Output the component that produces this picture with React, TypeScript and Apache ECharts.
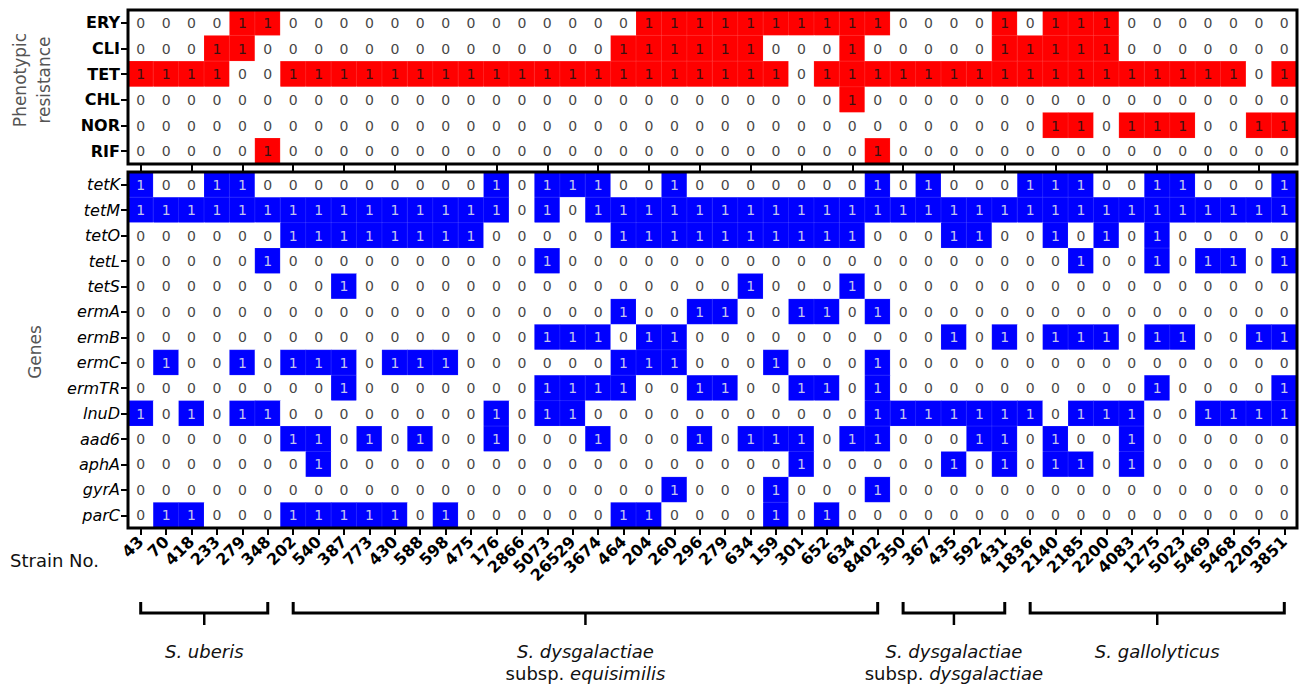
import React, { useEffect, useRef } from 'react';
import * as echarts from 'echarts';

const STRAINS = ['43', '70', '418', '233', '279', '348', '202', '540', '387', '773', '430', '588', '598', '475', '176', '2866', '5073', '26529', '3674', '464', '204', '260', '296', '279', '634', '159', '301', '652', '634', '8402', '350', '367', '435', '592', '431', '1836', '2140', '2185', '2200', '4083', '1275', '5023', '5469', '5468', '2205', '3851'];

// Phenotypic resistance (columns follow STRAINS)
const PHENO_ROWS = ['ERY', 'CLI', 'TET', 'CHL', 'NOR', 'RIF'];
const ERY = [0,0,0,0,1,1,0,0,0,0, 0,0,0,0,0,0,0,0,0,0, 1,1,1,1,1,1,1,1,1,1, 0,0,0,0,1,0,1,1,1,0, 0,0,0,0,0,0];
const CLI = [0,0,0,1,1,0,0,0,0,0, 0,0,0,0,0,0,0,0,0,1, 1,1,1,1,1,0,0,0,1,0, 0,0,0,0,1,1,1,1,1,0, 0,0,0,0,0,0];
const TET = [1,1,1,1,0,0,1,1,1,1, 1,1,1,1,1,1,1,1,1,1, 1,1,1,1,1,1,0,1,1,1, 1,1,1,1,1,1,1,1,1,1, 1,1,1,1,0,1];
const CHL = [0,0,0,0,0,0,0,0,0,0, 0,0,0,0,0,0,0,0,0,0, 0,0,0,0,0,0,0,0,1,0, 0,0,0,0,0,0,0,0,0,0, 0,0,0,0,0,0];
const NOR = [0,0,0,0,0,0,0,0,0,0, 0,0,0,0,0,0,0,0,0,0, 0,0,0,0,0,0,0,0,0,0, 0,0,0,0,0,0,1,1,0,1, 1,1,0,0,1,1];
const RIF = [0,0,0,0,0,1,0,0,0,0, 0,0,0,0,0,0,0,0,0,0, 0,0,0,0,0,0,0,0,0,1, 0,0,0,0,0,0,0,0,0,0, 0,0,0,0,0,0];
const PHENO_VALUES = [ERY, CLI, TET, CHL, NOR, RIF];

// Genes
const GENE_ROWS = ['tetK', 'tetM', 'tetO', 'tetL', 'tetS', 'ermA', 'ermB', 'ermC', 'ermTR', 'lnuD', 'aad6', 'aphA', 'gyrA', 'parC'];
const TETK = [1,0,0,1,1,0,0,0,0,0, 0,0,0,0,1,0,1,1,1,0, 0,1,0,0,0,0,0,0,0,1, 0,1,0,0,0,1,1,1,0,0, 1,1,0,0,0,1];
const TETM = [1,1,1,1,1,1,1,1,1,1, 1,1,1,1,1,0,1,0,1,1, 1,1,1,1,1,1,1,1,1,1, 1,1,1,1,1,1,1,1,1,1, 1,1,1,1,1,1];
const TETO = [0,0,0,0,0,0,1,1,1,1, 1,1,1,1,0,0,0,0,0,1, 1,1,1,1,1,1,1,1,1,0, 0,0,1,1,0,0,1,0,1,0, 1,0,0,0,0,0];
const TETL = [0,0,0,0,0,1,0,0,0,0, 0,0,0,0,0,0,1,0,0,0, 0,0,0,0,0,0,0,0,0,0, 0,0,0,0,0,0,0,1,0,0, 1,0,1,1,0,1];
const TETS = [0,0,0,0,0,0,0,0,1,0, 0,0,0,0,0,0,0,0,0,0, 0,0,0,0,1,0,0,0,1,0, 0,0,0,0,0,0,0,0,0,0, 0,0,0,0,0,0];
const ERMA = [0,0,0,0,0,0,0,0,0,0, 0,0,0,0,0,0,0,0,0,1, 0,0,1,1,0,0,1,1,0,1, 0,0,0,0,0,0,0,0,0,0, 0,0,0,0,0,0];
const ERMB = [0,0,0,0,0,0,0,0,0,0, 0,0,0,0,0,0,1,1,1,0, 1,1,0,0,0,0,0,0,0,0, 0,0,1,0,1,0,1,1,1,0, 1,1,0,0,1,1];
const ERMC = [0,1,0,0,1,0,1,1,1,0, 1,1,1,0,0,0,0,0,0,1, 1,1,0,0,0,1,0,0,0,1, 0,0,0,0,0,0,0,0,0,0, 0,0,0,0,0,0];
const ERMTR = [0,0,0,0,0,0,0,0,1,0, 0,0,0,0,0,0,1,1,1,1, 0,0,1,1,0,0,1,1,0,1, 0,0,0,0,0,0,0,0,0,0, 1,0,0,0,0,1];
const LNUD = [1,0,1,0,1,1,0,0,0,0, 0,0,0,0,1,0,1,1,0,0, 0,0,0,0,0,0,0,0,0,1, 1,1,1,1,1,1,0,1,1,1, 0,0,1,1,1,1];
const AAD6 = [0,0,0,0,0,0,1,1,0,1, 0,1,0,0,1,0,0,0,1,0, 0,0,1,0,1,1,1,0,1,1, 0,0,0,1,1,0,1,0,0,1, 0,0,0,0,0,0];
const APHA = [0,0,0,0,0,0,0,1,0,0, 0,0,0,0,0,0,0,0,0,0, 0,0,0,0,0,0,1,0,0,0, 0,0,1,0,1,0,1,1,0,1, 0,0,0,0,0,0];
const GYRA = [0,0,0,0,0,0,0,0,0,0, 0,0,0,0,0,0,0,0,0,0, 0,1,0,0,0,1,0,0,0,1, 0,0,0,0,0,0,0,0,0,0, 0,0,0,0,0,0];
const PARC = [0,1,1,0,0,0,1,1,1,1, 1,0,1,0,0,0,0,0,0,1, 1,0,0,0,0,1,0,1,0,0, 0,0,0,0,0,0,0,0,0,0, 0,0,0,0,0,0];
const GENE_VALUES = [TETK, TETM, TETO, TETL, TETS, ERMA, ERMB, ERMC, ERMTR, LNUD, AAD6, APHA, GYRA, PARC];

// Species groups (first and last strain column index)
const GROUP_LINE1 = ['S. uberis', 'S. dysgalactiae', 'S. dysgalactiae', 'S. gallolyticus'];
const GROUP_LINE2 = ['', 'equisimilis', 'dysgalactiae', ''];
const GROUP_START = [0, 6, 30, 35];
const GROUP_END = [5, 29, 34, 45];

const FONT = '"DejaVu Sans", Verdana, sans-serif';
const G_LEFT = 128;
const G_WIDTH = 1169;
const G1_TOP = 10;
const G1_H = 154;
const G2_TOP = 172;
const G2_H = 356;

const toData = (rows: number[][], oneTextColor: string) =>
  rows.flatMap((row, r) =>
    row.map((v, c) => ({
      value: [c, r, v],
      label: { color: v === 1 ? oneTextColor : '#474747' },
    }))
  );

export default function App() {
  const ref = useRef<HTMLDivElement>(null);
  useEffect(() => {
    const chart = echarts.init(ref.current as HTMLDivElement, null, { renderer: 'svg' });
    const tick = { show: true, alignWithLabel: true, length: 7, lineStyle: { color: '#000', width: 2 } };
    const cellLabel = {
      show: true,
      formatter: (p: any) => String(p.value[2]),
      fontSize: 14,
      fontFamily: FONT,
    };
    const cellStyle = { borderWidth: 0.6, borderColor: 'rgba(255,255,255,0.18)' };
    chart.setOption({
      animation: false,
      backgroundColor: '#ffffff',
      grid: [
        { left: G_LEFT, top: G1_TOP, width: G_WIDTH, height: G1_H, outerBoundsMode: 'none' },
        { left: G_LEFT, top: G2_TOP, width: G_WIDTH, height: G2_H, outerBoundsMode: 'none' },
      ],
      xAxis: [
        {
          type: 'category', gridIndex: 0, data: STRAINS, position: 'bottom',
          axisLine: { show: false }, axisTick: tick, axisLabel: { show: false },
          splitLine: { show: false },
        },
        {
          type: 'category', gridIndex: 1, data: STRAINS, position: 'bottom',
          axisLine: { show: false }, axisTick: tick,
          axisLabel: {
            interval: 0, rotate: 45, margin: 11, color: '#000', fontWeight: 'bold',
            fontSize: 16, fontFamily: FONT,
          },
          splitLine: { show: false },
        },
      ],
      yAxis: [
        {
          type: 'category', gridIndex: 0, data: PHENO_ROWS, inverse: true,
          axisLine: { show: false }, axisTick: tick,
          axisLabel: { color: '#000', fontWeight: 'bold', fontSize: 16, fontFamily: FONT, margin: 8 },
          splitLine: { show: false },
        },
        {
          type: 'category', gridIndex: 1, data: GENE_ROWS, inverse: true,
          axisLine: { show: false }, axisTick: tick,
          axisLabel: { color: '#000', fontStyle: 'italic', fontSize: 16, fontFamily: FONT, margin: 8 },
          splitLine: { show: false },
        },
      ],
      visualMap: [
        {
          type: 'piecewise', show: false, seriesIndex: 0, dimension: 2,
          pieces: [{ value: 0, color: '#ffffff' }, { value: 1, color: '#ff0000' }],
        },
        {
          type: 'piecewise', show: false, seriesIndex: 1, dimension: 2,
          pieces: [{ value: 0, color: '#ffffff' }, { value: 1, color: '#0000ff' }],
        },
      ],
      series: [
        {
          type: 'heatmap', xAxisIndex: 0, yAxisIndex: 0, data: toData(PHENO_VALUES, '#3a1010'),
          progressive: 0, label: cellLabel, itemStyle: cellStyle, emphasis: { disabled: true },
        },
        {
          type: 'heatmap', xAxisIndex: 1, yAxisIndex: 1, data: toData(GENE_VALUES, '#c4c4ee'),
          progressive: 0, label: cellLabel, itemStyle: cellStyle, emphasis: { disabled: true },
        },
      ],
    });

    const px = (i: number) => chart.convertToPixel({ xAxisIndex: 1 } as any, i) as number;
    const graphics: any[] = [
      {
        type: 'rect', z: 100, shape: { x: G_LEFT, y: G1_TOP, width: G_WIDTH, height: G1_H },
        style: { fill: 'none', stroke: '#000', lineWidth: 3 },
      },
      {
        type: 'rect', z: 100, shape: { x: G_LEFT, y: G2_TOP, width: G_WIDTH, height: G2_H },
        style: { fill: 'none', stroke: '#000', lineWidth: 3 },
      },
      {
        type: 'text', x: 32, y: 80, rotation: Math.PI / 2, z: 100,
        style: {
          text: 'Phenotypic\nresistance', fill: '#555', fontSize: 17, fontFamily: FONT,
          align: 'center', verticalAlign: 'middle', lineHeight: 24,
        },
      },
      {
        type: 'text', x: 35, y: 352, rotation: Math.PI / 2, z: 100,
        style: {
          text: 'Genes', fill: '#555', fontSize: 17, fontFamily: FONT,
          align: 'center', verticalAlign: 'middle',
        },
      },
      {
        type: 'text', x: 10, y: 560, z: 100,
        style: {
          text: 'Strain No.', fill: '#111', fontSize: 18, fontFamily: FONT,
          align: 'left', verticalAlign: 'middle',
        },
      },
    ];
    GROUP_LINE1.forEach((name, g) => {
      const x0 = px(GROUP_START[g]);
      const x1 = px(GROUP_END[g]);
      const xc = (x0 + x1) / 2;
      graphics.push({
        type: 'polyline', z: 100,
        shape: { points: [[x0, 602], [x0, 613], [x1, 613], [x1, 602]] },
        style: { stroke: '#000', lineWidth: 3, fill: 'none' },
      });
      graphics.push({
        type: 'line', z: 100,
        shape: { x1: xc, y1: 613, x2: xc, y2: 625 },
        style: { stroke: '#000', lineWidth: 2.5 },
      });
      graphics.push({
        type: 'text', x: xc, y: 651, z: 100,
        style: {
          text: name, fill: '#111', fontSize: 18, fontStyle: 'italic', fontFamily: FONT,
          align: 'center', verticalAlign: 'middle',
        },
      });
      if (GROUP_LINE2[g]) {
        graphics.push({
          type: 'text', x: xc, y: 673, z: 100,
          style: {
            text: '{n|subsp. }{i|' + GROUP_LINE2[g] + '}',
            fill: '#111', fontSize: 18, fontFamily: FONT,
            align: 'center', verticalAlign: 'middle',
            rich: {
              n: { fontSize: 18, fontFamily: FONT, fontStyle: 'normal', fill: '#111' },
              i: { fontSize: 18, fontFamily: FONT, fontStyle: 'italic', fill: '#111' },
            },
          },
        });
      }
    });
    chart.setOption({ graphic: graphics });
    return () => chart.dispose();
  }, []);
  return (
    <div
      ref={ref}
      style={{ position: 'absolute', left: 0, top: 0, width: 1305, height: 684, background: '#fff' }}
    />
  );
}
